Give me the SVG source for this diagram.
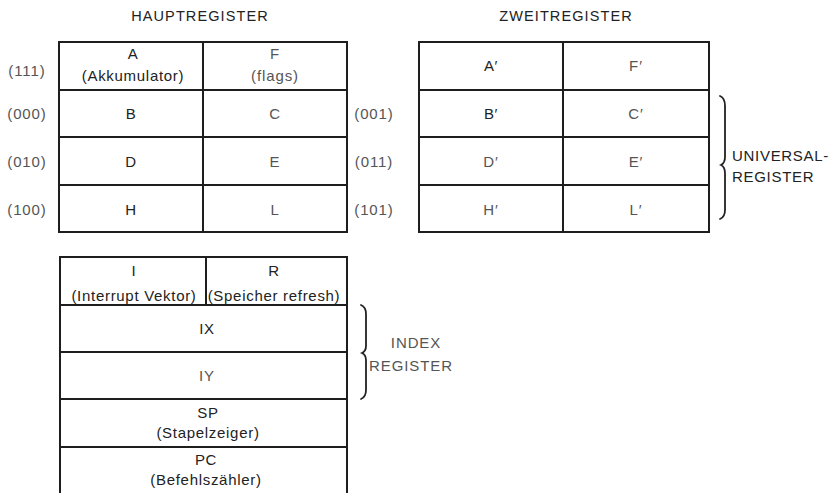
<svg xmlns="http://www.w3.org/2000/svg" width="833" height="493" viewBox="0 0 833 493">
<style>
  .box{fill:#fff;stroke:#1e1e1e;stroke-width:2}
  .ln{stroke:#1e1e1e;stroke-width:2;fill:none}
  .t{font-family:"Liberation Sans",Arial,sans-serif;font-size:15px;fill:#222;text-anchor:middle;letter-spacing:0.7px}
  .l{font-family:"Liberation Sans",Arial,sans-serif;font-size:15px;fill:#555;text-anchor:middle;letter-spacing:0.9px}
  .h{font-size:14.5px;letter-spacing:1.1px}
  .s{text-anchor:start}
  .br{fill:none;stroke:#222;stroke-width:1.8;stroke-linecap:round}
</style>
<rect width="833" height="493" fill="#fff"/>

<text class="t h" x="200" y="21">HAUPTREGISTER</text>
<text class="t h" x="566" y="21">ZWEITREGISTER</text>

<g id="hauptregister">
  <rect class="box" x="59" y="42" width="288" height="190"/>
  <line class="ln" x1="203" y1="42" x2="203" y2="232"/>
  <line class="ln" x1="59" y1="90" x2="347" y2="90"/>
  <line class="ln" x1="59" y1="137" x2="347" y2="137"/>
  <line class="ln" x1="59" y1="185" x2="347" y2="185"/>
  <g id="reg-A"><text class="t" x="133" y="59">A</text><text class="t" x="133" y="81">(Akkumulator)</text></g>
  <g id="reg-F"><text class="l" x="275" y="59">F</text><text class="l" x="275" y="81">(flags)</text></g>
  <g id="reg-B"><text class="t" x="131" y="119">B</text></g>
  <g id="reg-C"><text class="l" x="275" y="119">C</text></g>
  <g id="reg-D"><text class="t" x="131" y="167">D</text></g>
  <g id="reg-E"><text class="l" x="275" y="167">E</text></g>
  <g id="reg-H"><text class="t" x="131" y="215">H</text></g>
  <g id="reg-L"><text class="l" x="275" y="215">L</text></g>
</g>

<g id="codes">
  <text class="l" x="27" y="76">(111)</text>
  <text class="l" x="27" y="119">(000)</text>
  <text class="l" x="27" y="167">(010)</text>
  <text class="l" x="27" y="215">(100)</text>
  <text class="l" x="374" y="119">(001)</text>
  <text class="l" x="374" y="167">(011)</text>
  <text class="l" x="374" y="215">(101)</text>
</g>

<g id="zweitregister">
  <rect class="box" x="419" y="42" width="290" height="190"/>
  <line class="ln" x1="563" y1="42" x2="563" y2="232"/>
  <line class="ln" x1="419" y1="90" x2="709" y2="90"/>
  <line class="ln" x1="419" y1="137" x2="709" y2="137"/>
  <line class="ln" x1="419" y1="185" x2="709" y2="185"/>
  <g id="reg-A2"><text class="t" x="491" y="71">A′</text></g>
  <g id="reg-F2"><text class="l" x="636" y="71">F′</text></g>
  <g id="reg-B2"><text class="t" x="491" y="119">B′</text></g>
  <g id="reg-C2"><text class="l" x="636" y="119">C′</text></g>
  <g id="reg-D2"><text class="l" x="491" y="167">D′</text></g>
  <g id="reg-E2"><text class="l" x="636" y="167">E′</text></g>
  <g id="reg-H2"><text class="l" x="491" y="215">H′</text></g>
  <g id="reg-L2"><text class="l" x="636" y="215">L′</text></g>
</g>

<g id="sonderregister">
  <rect class="box" x="60" y="257" width="287" height="240"/>
  <line class="ln" x1="206" y1="257" x2="206" y2="305"/>
  <line class="ln" x1="60" y1="305" x2="347" y2="305"/>
  <line class="ln" x1="60" y1="352" x2="347" y2="352"/>
  <line class="ln" x1="60" y1="399" x2="347" y2="399"/>
  <line class="ln" x1="60" y1="447" x2="347" y2="447"/>
  <g id="reg-I"><text class="t" x="134" y="276">I</text><text class="t" x="134" y="301">(Interrupt Vektor)</text></g>
  <g id="reg-R"><text class="t" x="274" y="276">R</text><text class="t" x="274" y="301">(Speicher refresh)</text></g>
  <g id="reg-IX"><text class="t" x="207" y="334">IX</text></g>
  <g id="reg-IY"><text class="l" x="207" y="381">IY</text></g>
  <g id="reg-SP"><text class="t" x="208" y="418">SP</text><text class="t" x="208" y="438">(Stapelzeiger)</text></g>
  <g id="reg-PC"><text class="t" x="206" y="465">PC</text><text class="t" x="206" y="485">(Befehlszähler)</text></g>
</g>

<g id="braces">
  <path class="br" d="M720,96 Q725,98 725,106 L725,157 Q725,163 721,165 Q725,167 725,173 L725,210 Q725,217 720,219"/>
  <path class="br" d="M361,305 Q366,307 366,314 L366,346 Q366,351 362,353 Q366,355 366,360 L366,390 Q366,397 361,399"/>
</g>

<g id="group-labels">
  <text class="t s" x="732" y="161">UNIVERSAL-</text>
  <text class="t s" x="732" y="182">REGISTER</text>
  <text class="l" x="416" y="348">INDEX</text>
  <text class="l" x="411" y="371">REGISTER</text>
</g>
</svg>
